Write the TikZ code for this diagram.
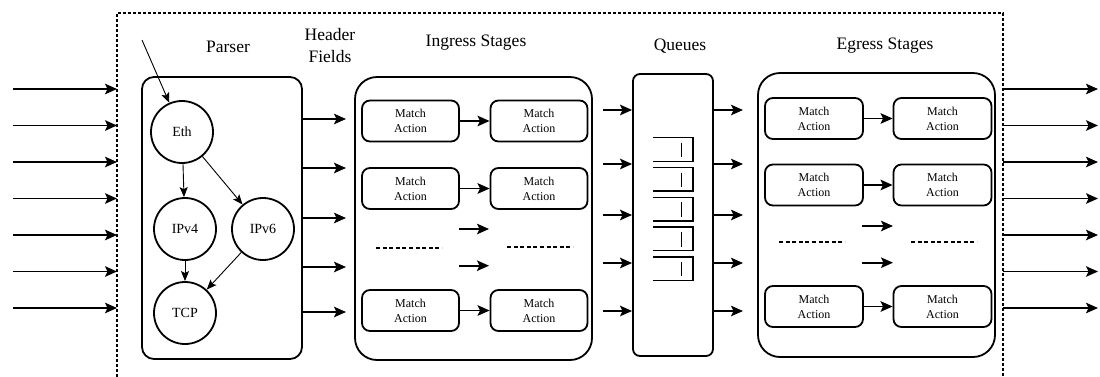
\documentclass[tikz,border=0pt]{standalone}
\usepackage{fontspec}
\setmainfont{Liberation Serif}
\newfontfamily\tms{Liberation Serif}
\usetikzlibrary{arrows.meta}
\begin{document}
\begin{tikzpicture}[x=1pt,y=-1pt,
  every node/.style={font=\tms},
  thickarrow/.style={line width=1.9pt,-{Stealth[length=12pt,width=10.5pt,inset=2.5pt]}},
  thinarrow/.style={line width=0.9pt,-{Stealth[length=10pt,width=8pt,inset=2pt]}},
  bigbox/.style={draw,line width=1.8pt,inner sep=0pt},
  mabox/.style={draw,line width=1.8pt,rounded corners=8pt,minimum width=97pt,minimum height=41pt,inner sep=0pt,align=center,font=\tms\fontsize{12}{15}\selectfont},
  proto/.style={draw,circle,line width=1.8pt,minimum size=62pt,inner sep=0pt,font=\tms\fontsize{14}{16}\selectfont},
  title/.style={font=\tms\fontsize{17.5}{22}\selectfont,align=center},
  dots/.style={line width=1.6pt,dash pattern=on 4pt off 2.6pt},
  qline/.style={line width=1.4pt},
]
\useasboundingbox (0,0) rectangle (1100,376);
\clip (0,0) rectangle (1100,376);
% outer dotted frame
\draw[line width=1.5pt,dash pattern=on 3pt off 2pt] (117,392) -- (117,13) -- (1003,13) -- (1003,392);

% titles
\node[title] (tparser) at (228,47) {Parser};
\node[title] (thf) at (330,46) {Header\\Fields};
\node[title] (ting) at (476,43) {Ingress Stages};
\node[title] (tq) at (680,46) {Queues};
\node[title] (teg) at (885,46) {Egress Stages};

% main boxes
\node[bigbox,rounded corners=12pt,minimum width=160pt,minimum height=282pt] (parser) at (222,218) {};
\node[bigbox,rounded corners=22pt,minimum width=237pt,minimum height=283pt] (ingress) at (473.5,218.5) {};
\node[bigbox,rounded corners=7pt,minimum width=80pt,minimum height=282pt] (queues) at (673,215) {};
\node[bigbox,rounded corners=22pt,minimum width=237pt,minimum height=284pt] (egress) at (876.5,215) {};

% input / output arrows
\foreach \i/\y in {1/89,2/125.5,3/162,4/198.5,5/235,6/271.5,7/308}{
  \coordinate (in\i) at (13,\y);
  \coordinate (ine\i) at (117,\y);
  \draw[thickarrow] (in\i) -- (ine\i);
  \coordinate (outs\i) at (1003,\y);
  \coordinate (oute\i) at (1098,\y);
  \draw[thickarrow] (outs\i) -- (oute\i);
}

% parser graph
\node[proto] (eth) at (182,132) {Eth};
\node[proto] (ipv4) at (185,229) {IPv4};
\node[proto] (ipv6) at (263,229) {IPv6};
\node[proto] (tcp) at (185,313) {TCP};
\coordinate (pin) at (142,40);
\draw[thinarrow] (pin) -- (eth);
\draw[thinarrow] (eth) -- (ipv4);
\draw[thinarrow] (eth) -- (ipv6);
\draw[thinarrow] (ipv4) -- (tcp);
\draw[thinarrow] (ipv6) -- (tcp);

% header field arrows
\foreach \i/\y in {1/119,2/168,3/218,4/267,5/312}{
  \coordinate (hf\i) at (parser.east |- 0,\y);
  \coordinate (hfe\i) at (346,\y);
  \draw[thickarrow] (hf\i) -- (hfe\i);
}

% ingress match-action
\node[mabox] (il1) at (410.5,121) {Match\\Action};
\node[mabox] (ir1) at (539,121) {Match\\Action};
\node[mabox] (il2) at (410.5,188.5) {Match\\Action};
\node[mabox] (ir2) at (539,188.5) {Match\\Action};
\node[mabox] (il3) at (410.5,310.5) {Match\\Action};
\node[mabox] (ir3) at (539,310.5) {Match\\Action};
\draw[thickarrow] (il1) -- (ir1);
\draw[thickarrow] (il2) -- (ir2);
\draw[thickarrow] (il3) -- (ir3);
\coordinate (ima) at (459,229); \coordinate (imae) at (489,229);
\coordinate (imb) at (459,265.7); \coordinate (imbe) at (489,265.7);
\draw[thickarrow] (ima) -- (imae);
\draw[thickarrow] (imb) -- (imbe);
\coordinate (idl) at (376,248); \coordinate (idle) at (442,248);
\coordinate (idr) at (507,246.7); \coordinate (idre) at (573,246.7);
\draw[dots] (idl) -- (idle);
\draw[dots] (idr) -- (idre);

% queue arrows
\foreach \i/\y in {1/110,2/164,3/215,4/263,5/311}{
  \coordinate (qi\i) at (603,\y);
  \draw[thickarrow] (qi\i) -- (queues.west |- 0,\y);
  \coordinate (qo\i) at (queues.east |- 0,\y);
  \coordinate (qoe\i) at (743,\y);
  \draw[thickarrow] (qo\i) -- (qoe\i);
}

% queue symbols
\foreach \k in {0,...,4}{
  \pgfmathsetmacro{\yt}{137.7+29.8*\k}
  \pgfmathsetmacro{\yb}{\yt+23.5}
  \draw[qline] (653,\yt) -- (693,\yt) -- (693,\yb) -- (653,\yb);
  \draw[line width=1pt] (681,\yt+5) -- (681,\yb-4);
}

% egress match-action
\node[mabox,minimum width=98pt] (el1) at (814,118.5) {Match\\Action};
\node[mabox,minimum width=98pt] (er1) at (942.5,118.5) {Match\\Action};
\node[mabox,minimum width=98pt] (el2) at (814,185) {Match\\Action};
\node[mabox,minimum width=98pt] (er2) at (942.5,185) {Match\\Action};
\node[mabox,minimum width=98pt] (el3) at (814,306.5) {Match\\Action};
\node[mabox,minimum width=98pt] (er3) at (942.5,306.5) {Match\\Action};
\draw[thickarrow] (el1) -- (er1);
\draw[thickarrow] (el2) -- (er2);
\draw[thickarrow] (el3) -- (er3);
\coordinate (ema) at (862,226); \coordinate (emae) at (893,226);
\coordinate (emb) at (862,262.7); \coordinate (embe) at (893,262.7);
\draw[thickarrow] (ema) -- (emae);
\draw[thickarrow] (emb) -- (embe);
\coordinate (edl) at (779,242); \coordinate (edle) at (845,242);
\coordinate (edr) at (911,242); \coordinate (edre) at (977,242);
\draw[dots] (edl) -- (edle);
\draw[dots] (edr) -- (edre);
\end{tikzpicture}
\end{document}
